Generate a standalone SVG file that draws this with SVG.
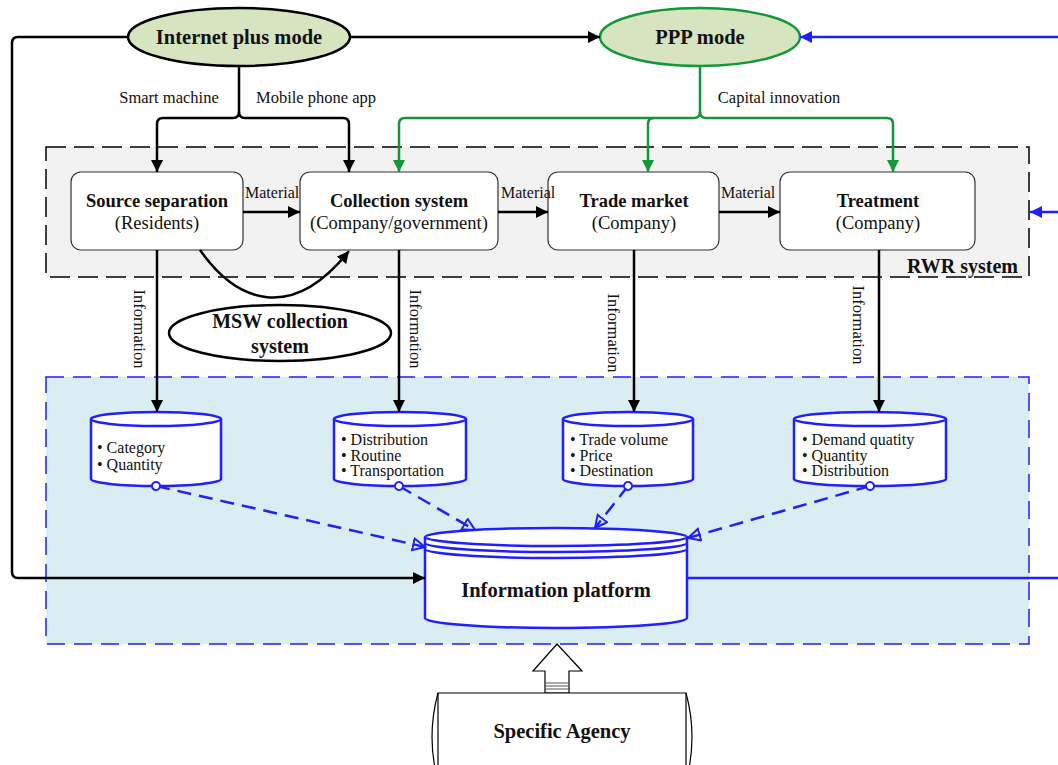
<svg xmlns="http://www.w3.org/2000/svg" width="1058" height="765" viewBox="0 0 1058 765">
<defs>
<style>
text{font-family:"Liberation Serif","Times New Roman",serif;fill:#111}
.b{font-weight:bold}
.t{font-size:18.5px}
.s{font-size:16.5px}
.m{font-size:16px}
.c{font-size:16px}
.node{fill:#fff;stroke:#333;stroke-width:1.2}
.k{fill:none;stroke:#000;stroke-width:2.5;stroke-linejoin:round}
.g{fill:none;stroke:#13973a;stroke-width:2.5;stroke-linejoin:round}
.bl{fill:none;stroke:#1f1fff;stroke-width:2.5}
.cyl{fill:#fff;stroke:#1f1fff;stroke-width:2.5}
.da{fill:none;stroke:#1f1fff;stroke-width:2.5;stroke-dasharray:14 8}
</style>
<marker id="ak" markerUnits="userSpaceOnUse" markerWidth="14" markerHeight="14" refX="12" refY="6" orient="auto"><path d="M0,0 L12,6 L0,12 Z" fill="#000"/></marker>
<marker id="ag" markerUnits="userSpaceOnUse" markerWidth="14" markerHeight="14" refX="12" refY="6" orient="auto"><path d="M0,0 L12,6 L0,12 Z" fill="#13973a"/></marker>
<marker id="ab" markerUnits="userSpaceOnUse" markerWidth="14" markerHeight="14" refX="12" refY="6" orient="auto"><path d="M0,0 L12,6 L0,12 Z" fill="#1f1fff"/></marker>
<marker id="ao" markerUnits="userSpaceOnUse" markerWidth="16" markerHeight="16" refX="13" refY="7" orient="auto"><path d="M1,1 L13,7 L1,13 Z" fill="none" stroke="#1f1fff" stroke-width="2"/></marker>
<marker id="ci" markerUnits="userSpaceOnUse" markerWidth="12" markerHeight="12" refX="6" refY="6" orient="auto"><circle cx="6" cy="6" r="4" fill="#fff" stroke="#1f1fff" stroke-width="2"/></marker>
</defs>

<g id="rwr-system">
<rect x="46" y="147" width="983" height="130" fill="#f2f2f2" stroke="#000" stroke-width="1.5" stroke-dasharray="20 8"/>
<text x="1018" y="273" class="b" font-size="20" text-anchor="end">RWR system</text>
</g>

<g id="information-layer">
<rect x="46" y="377" width="983" height="267" fill="#daedf3" stroke="#1f1fff" stroke-width="1.5" stroke-dasharray="18 9"/>
</g>

<g id="internet-plus-mode">
<ellipse cx="239" cy="37" rx="111" ry="29" fill="#d6e4bf" stroke="#000" stroke-width="2.5"/>
<text x="239" y="44" class="b" font-size="20.5" text-anchor="middle">Internet plus mode</text>
</g>

<g id="ppp-mode">
<ellipse cx="700" cy="37" rx="100" ry="29" fill="#d6e4bf" stroke="#13973a" stroke-width="2.5"/>
<text x="700" y="44" class="b" font-size="20.5" text-anchor="middle">PPP mode</text>
</g>

<g id="source-separation">
<rect class="node" x="71" y="172" width="172" height="78" rx="10"/>
<text x="157" y="207" class="t b" text-anchor="middle">Source separation</text>
<text x="157" y="229" class="t" text-anchor="middle">(Residents)</text>
</g>

<g id="collection-system">
<rect class="node" x="300" y="172" width="198" height="78" rx="10"/>
<text x="399" y="207" class="t b" text-anchor="middle">Collection system</text>
<text x="399" y="229" class="t" text-anchor="middle">(Company/government)</text>
</g>

<g id="trade-market">
<rect class="node" x="548" y="172" width="171" height="78" rx="10"/>
<text x="634" y="207" class="t b" text-anchor="middle">Trade market</text>
<text x="634" y="229" class="t" text-anchor="middle">(Company)</text>
</g>

<g id="treatment">
<rect class="node" x="780" y="172" width="195" height="78" rx="10"/>
<text x="878" y="207" class="t b" text-anchor="middle">Treatment</text>
<text x="878" y="229" class="t" text-anchor="middle">(Company)</text>
</g>

<g id="msw-collection-system">
<ellipse cx="280" cy="333" rx="111" ry="28" fill="#fff" stroke="#000" stroke-width="2.5"/>
<text x="280" y="328" class="b" font-size="20" text-anchor="middle">MSW collection</text>
<text x="280" y="353" class="b" font-size="20" text-anchor="middle">system</text>
</g>

<g id="db-source">
<path class="cyl" d="M91,419 V479 A65,7 0 0 0 221,479 V419"/>
<ellipse class="cyl" cx="156" cy="419" rx="65" ry="7"/>
<text x="97" y="453" class="c">• Category</text>
<text x="97" y="470" class="c">• Quantity</text>
</g>

<g id="db-collection">
<path class="cyl" d="M334,419 V479 A66,7 0 0 0 466,479 V419"/>
<ellipse class="cyl" cx="400" cy="419" rx="66" ry="7"/>
<text x="341" y="445" class="c">• Distribution</text>
<text x="341" y="461" class="c">• Routine</text>
<text x="341" y="476" class="c">• Transportation</text>
</g>

<g id="db-trade">
<path class="cyl" d="M563,419 V479 A65,7 0 0 0 693,479 V419"/>
<ellipse class="cyl" cx="628" cy="419" rx="65" ry="7"/>
<text x="570" y="445" class="c">• Trade volume</text>
<text x="570" y="461" class="c">• Price</text>
<text x="570" y="476" class="c">• Destination</text>
</g>

<g id="db-treatment">
<path class="cyl" d="M794,419 V479 A76,7 0 0 0 946,479 V419"/>
<ellipse class="cyl" cx="870" cy="419" rx="76" ry="7"/>
<text x="802" y="445" class="c">• Demand quatity</text>
<text x="802" y="461" class="c">• Quantity</text>
<text x="802" y="476" class="c">• Distribution</text>
</g>

<g id="information-platform">
<path class="cyl" d="M425,537 V618 A131,10 0 0 0 687,618 V537"/>
<ellipse class="cyl" cx="556" cy="537" rx="131" ry="9"/>
<path class="bl" d="M425,543 A131,9 0 0 0 687,543"/>
<path class="bl" d="M425,549 A131,9 0 0 0 687,549"/>
<text x="556" y="597" class="b" font-size="20.5" text-anchor="middle">Information platform</text>
</g>

<g id="specific-agency">
<path d="M557,644 L582,671 L569,671 L569,693 L545,693 L545,671 L533,671 Z" fill="#fff" stroke="#000" stroke-width="1.2"/>
<path d="M545,683 H569 M545,686 H569 M545,689 H569" stroke="#555" stroke-width="1"/>
<path d="M438,693 H686 V780 H438 Z" fill="#fff" stroke="#000" stroke-width="1.2"/>
<path d="M438,693 Q426,737 438,781 M686,693 Q698,737 686,781" fill="none" stroke="#000" stroke-width="1.2"/>
<text x="562" y="738" class="b" font-size="20.5" text-anchor="middle">Specific Agency</text>
</g>

<g id="connectors">
<!-- Internet plus mode -->
<path class="k" d="M128,37 H18 Q12,37 12,43 V572 Q12,578 18,578 H425" marker-end="url(#ak)"/>
<path class="k" d="M350,37 H600" marker-end="url(#ak)"/>
<path class="k" d="M239,66 V112 Q239,118 233,118 H163 Q157,118 157,124 V172" marker-end="url(#ak)"/>
<path class="k" d="M239,112 Q239,118 245,118 H343 Q349,118 349,124 V172" marker-end="url(#ak)"/>
<!-- PPP -->
<path class="g" d="M700,66 V112 Q700,118 694,118 H405 Q399,118 399,124 V172" marker-end="url(#ag)"/>
<path class="g" d="M654,118 Q648,118 648,124 V172" marker-end="url(#ag)"/>
<path class="g" d="M700,112 Q700,118 706,118 H887 Q893,118 893,124 V172" marker-end="url(#ag)"/>
<!-- blue from right -->
<path class="bl" d="M1058,37 H800" marker-end="url(#ab)"/>
<path class="bl" d="M1058,212 H1030" marker-end="url(#ab)"/>
<path class="bl" d="M688,578 H1058"/>
<!-- material -->
<path class="k" d="M243,212 H300" marker-end="url(#ak)"/>
<path class="k" d="M498,212 H548" marker-end="url(#ak)"/>
<path class="k" d="M719,212 H780" marker-end="url(#ak)"/>
<!-- MSW curve -->
<path class="k" d="M200,250 C235,300 290,325 349,251" marker-end="url(#ak)"/>
<!-- information -->
<path class="k" d="M157,250 V412" marker-end="url(#ak)"/>
<path class="k" d="M399,250 V412" marker-end="url(#ak)"/>
<path class="k" d="M634,250 V412" marker-end="url(#ak)"/>
<path class="k" d="M879,250 V412" marker-end="url(#ak)"/>
<!-- dashed to platform -->
<path class="da" d="M156,486 L425,547" marker-start="url(#ci)" marker-end="url(#ao)"/>
<path class="da" d="M399,486 L475,530" marker-start="url(#ci)" marker-end="url(#ao)"/>
<path class="da" d="M628,486 L595,528" marker-start="url(#ci)" marker-end="url(#ao)"/>
<path class="da" d="M870,486 L688,538" marker-start="url(#ci)" marker-end="url(#ao)"/>
<!-- labels -->
<text x="169" y="103" class="s" text-anchor="middle">Smart machine</text>
<text x="316" y="103" class="s" text-anchor="middle">Mobile phone app</text>
<text x="779" y="103" class="s" text-anchor="middle">Capital innovation</text>
<text x="245" y="198" class="m">Material</text>
<text x="501" y="198" class="m">Material</text>
<text x="721" y="198" class="m">Material</text>
<text class="s" text-anchor="middle" transform="translate(134,329) rotate(90)">Information</text>
<text class="s" text-anchor="middle" transform="translate(410,329) rotate(90)">Information</text>
<text class="s" text-anchor="middle" transform="translate(608,333) rotate(90)">Information</text>
<text class="s" text-anchor="middle" transform="translate(853,325) rotate(90)">Information</text>
</g>
</svg>
